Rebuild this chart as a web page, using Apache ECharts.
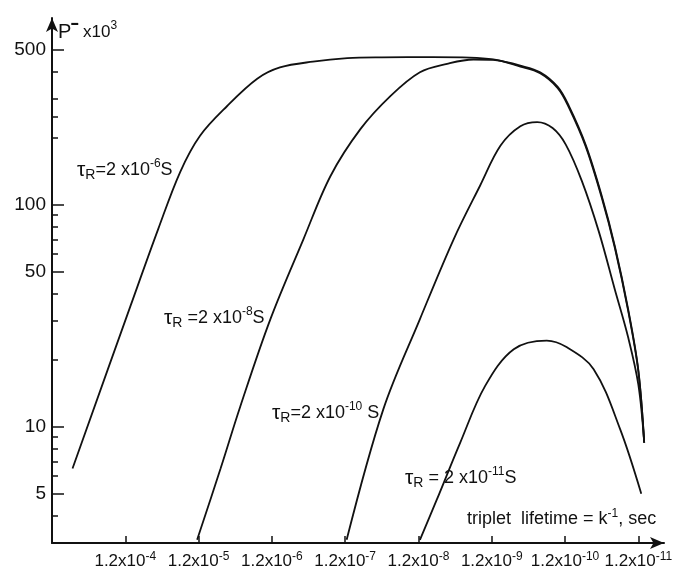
<!DOCTYPE html>
<html>
<head>
<meta charset="utf-8">
<script src="https://cdn.jsdelivr.net/npm/echarts@6/dist/echarts.min.js"></script>
<style>
  html, body { margin: 0; padding: 0; background: #fff; }
  #chart { width: 678px; height: 573px; }
</style>
</head>
<body>
<div id="chart"></div>
<script>
// x = exponent n of the triplet lifetime 1.2x10^-n s, y = P x10^3
const tickExponents = [4, 5, 6, 7, 8, 9, 10, 11]
const yLabelValues = [5, 10, 50, 100, 500]
const yMinorValues = [4, 6, 7, 8, 9, 20, 30, 40, 60, 70, 80, 90, 200, 250, 300, 400]

// tau_R = 2x10^-6 s
const tau6X = [3.28, 4.07, 4.45, 4.75, 5.02, 5.39, 5.80, 6.11, 6.56, 7.03, 7.5, 8.2, 8.7, 9.02, 9.39, 9.66, 9.9, 10.05, 10.28, 10.50, 10.68, 10.86, 11.0, 11.08]
const tau6P = [6.5, 35, 78, 141, 205, 279, 370, 416, 442, 458, 462, 463, 461, 452, 424, 396, 340, 280, 187, 110, 65, 34, 18, 8.5]

// tau_R = 2x10^-8 s
const tau8X = [4.98, 5.30, 5.57, 5.98, 6.43, 6.80, 7.21, 7.62, 8.02, 8.39, 8.75, 9.02, 9.39, 9.66, 9.9, 10.05, 10.28, 10.50, 10.68, 10.86, 11.0, 11.08]
const tau8P = [3.1, 6.5, 12.4, 30.6, 70, 135, 220, 310, 396, 432, 452, 450, 420, 392, 336, 276, 184, 108, 64, 33.5, 17.8, 8.5]

// tau_R = 2x10^-10 s
const tau10X = [7.02, 7.52, 8.02, 8.48, 8.84, 9.12, 9.39, 9.62, 9.83, 10.01, 10.23, 10.46, 10.68, 10.86, 11.0, 11.08]
const tau10P = [3.1, 12, 30.6, 70, 122, 185, 226, 236, 222, 187, 128, 76, 41.5, 25.4, 15.5, 8.5]

// tau_R = 2x10^-11 s
const tau11X = [8.02, 8.25, 8.57, 8.91, 9.30, 9.75, 10.02, 10.39, 10.75, 11.04]
const tau11P = [3.1, 4.7, 8.5, 15.3, 22.4, 24.5, 22.9, 18.2, 9.8, 5.0]

const FONT = 'Liberation Sans'
const INK = '#111'

const chart = echarts.init(document.getElementById('chart'))

const pairs = (xs, ys) => xs.map((x, i) => [x, ys[i]])

const curve = (xs, ys) => ({
  type: 'line',
  data: pairs(xs, ys),
  smooth: 0.35,
  symbol: 'none',
  lineStyle: { color: INK, width: 1.8 },
  silent: true,
})

// rich styles for tau labels
const tauRich = {
  t: { fontSize: 21, fontFamily: FONT, lineHeight: 24, fill: INK },
  r: { fontSize: 14, fontFamily: FONT, lineHeight: 13, verticalAlign: 'bottom', fill: INK },
  m: { fontSize: 18, fontFamily: FONT, lineHeight: 24, fill: INK },
  s: { fontSize: 12, fontFamily: FONT, lineHeight: 12, verticalAlign: 'top', fill: INK },
}

const tauLabel = (left, top, text) => ({
  type: 'text',
  left: left,
  top: top,
  style: { text: text, rich: tauRich, fill: INK },
  silent: true,
})

const option = {
  backgroundColor: '#fff',
  animation: false,
  grid: { left: 52, right: 14, top: 18, bottom: 30 },
  xAxis: {
    type: 'value',
    min: 3,
    max: 11.35,
    splitLine: { show: false },
    axisLine: {
      lineStyle: { color: INK, width: 2 },
      symbol: ['none', 'arrow'],
      symbolSize: [9, 14],
    },
    axisTick: { inside: true, length: 7, lineStyle: { color: INK, width: 1.5 }, customValues: tickExponents },
    axisLabel: {
      customValues: tickExponents,
      margin: 8,
      formatter: v => '{b|1.2x10}{s|-' + v + '}',
      rich: {
        b: { fontSize: 17, fontFamily: FONT, color: INK, lineHeight: 20 },
        s: { fontSize: 12, fontFamily: FONT, color: INK, lineHeight: 11, verticalAlign: 'top' },
      },
    },
  },
  yAxis: [
    {
      type: 'log',
      logBase: 10,
      min: 3,
      max: 695,
      splitLine: { show: false },
      axisLine: {
        lineStyle: { color: INK, width: 2 },
        symbol: ['none', 'arrow'],
        symbolSize: [9, 14],
      },
      axisTick: { inside: true, length: 12, lineStyle: { color: INK, width: 1.5 }, customValues: yLabelValues },
      axisLabel: {
        customValues: yLabelValues,
        margin: 6,
        fontSize: 19,
        fontFamily: FONT,
        color: INK,
        formatter: v => String(v),
      },
    },
    {
      type: 'log',
      logBase: 10,
      min: 3,
      max: 695,
      position: 'left',
      splitLine: { show: false },
      axisLine: { show: false },
      axisTick: { inside: true, length: 6, lineStyle: { color: INK, width: 1.5 }, customValues: yMinorValues },
      axisLabel: { show: false },
    },
  ],
  graphic: [
    {
      type: 'text',
      left: 58,
      top: 20,
      style: {
        text: '{p|P}{s|▬}{m| x10}{e|3}',
        rich: {
          p: { fontSize: 20, fontFamily: FONT, lineHeight: 24, fill: INK },
          s: { fontSize: 7, fontFamily: FONT, lineHeight: 10, verticalAlign: 'top', fill: INK },
          m: { fontSize: 17, fontFamily: FONT, lineHeight: 24, fill: INK },
          e: { fontSize: 12, fontFamily: FONT, lineHeight: 12, verticalAlign: 'top', fill: INK },
        },
      },
      silent: true,
    },
    tauLabel(77, 158, '{t|τ}{r|R}{m|=2 x10}{s|-6}{m|S}'),
    tauLabel(164, 306, '{t|τ}{r|R}{m| =2 x10}{s|-8}{m|S}'),
    tauLabel(272, 401, '{t|τ}{r|R}{m|=2 x10}{s|-10}{m| S}'),
    tauLabel(405, 466, '{t|τ}{r|R}{m| = 2 x10}{s|-11}{m|S}'),
    {
      type: 'text',
      left: 467,
      top: 508,
      style: {
        text: '{m|triplet  lifetime = k}{s|-1}{m|, sec}',
        rich: {
          m: { fontSize: 18, fontFamily: FONT, lineHeight: 22, fill: INK },
          s: { fontSize: 12, fontFamily: FONT, lineHeight: 11, verticalAlign: 'top', fill: INK },
        },
      },
      silent: true,
    },
  ],
  series: [
    curve(tau6X, tau6P),
    curve(tau8X, tau8P),
    curve(tau10X, tau10P),
    curve(tau11X, tau11P),
  ],
}

chart.setOption(option)
window.addEventListener('resize', () => chart.resize())
</script>
</body>
</html>
